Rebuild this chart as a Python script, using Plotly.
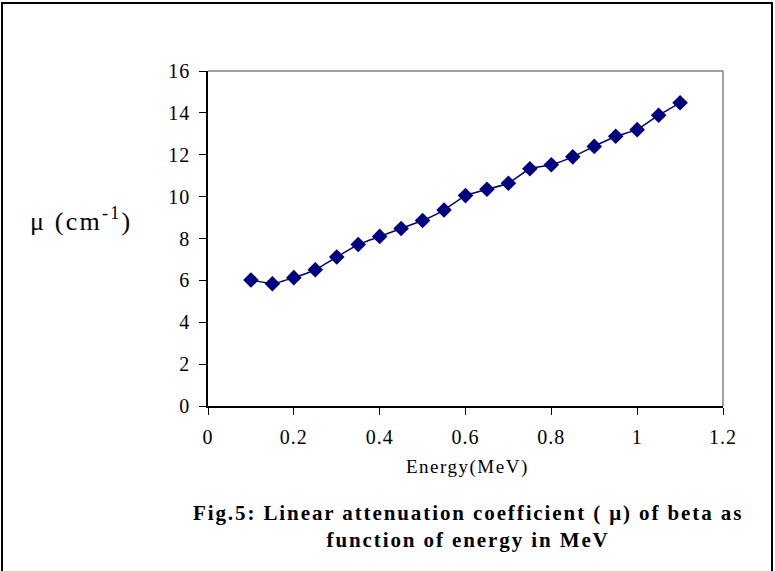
import plotly.graph_objects as go

energy = [0.1, 0.15, 0.2, 0.25, 0.3, 0.35, 0.4, 0.45, 0.5, 0.55, 0.6,
          0.65, 0.7, 0.75, 0.8, 0.85, 0.9, 0.95, 1.0, 1.05, 1.1]
mu = [6.02, 5.84, 6.13, 6.51, 7.12, 7.71, 8.10, 8.48, 8.86, 9.36, 10.05,
      10.35, 10.64, 11.33, 11.52, 11.90, 12.40, 12.88, 13.20, 13.89, 14.48]
x_ticks = [0, 0.2, 0.4, 0.6, 0.8, 1, 1.2]
y_ticks = [0, 2, 4, 6, 8, 10, 12, 14, 16]

FONT = "Liberation Serif, Times New Roman, serif"
NAVY = "#000080"


def spaced(s, px):
    return f'<span style="letter-spacing:{px}px">{s}</span>'


fig = go.Figure()
fig.add_trace(go.Scatter(
    x=energy, y=mu, mode="lines+markers",
    line=dict(color=NAVY, width=1.5, shape="spline", smoothing=0.4),
    marker=dict(symbol="diamond", size=12, color=NAVY),
    showlegend=False, hoverinfo="x+y"))

fig.update_layout(
    width=775, height=571,
    margin=dict(l=208, r=52, t=71, b=165),
    paper_bgcolor="white", plot_bgcolor="white",
    font=dict(family=FONT, size=20, color="black"),
    xaxis=dict(range=[0, 1.2], tickvals=x_ticks,
               ticktext=[spaced(str(v), 1) for v in x_ticks],
               showgrid=False, zeroline=False, showline=True, linecolor="black",
               linewidth=1.5, ticks="outside", ticklen=7, tickcolor="black",
               ticklabelstandoff=5,
               tickfont=dict(family=FONT, size=20)),
    yaxis=dict(range=[0, 16], tickvals=y_ticks,
               ticktext=[spaced(str(v), 1) for v in y_ticks],
               showgrid=False, zeroline=False,
               showline=True, linecolor="black", linewidth=1.5, ticks="outside",
               ticklen=7, tickcolor="black", ticklabelstandoff=5,
               tickfont=dict(family=FONT, size=20)),
    shapes=[
        dict(type="line", xref="paper", yref="paper", x0=0, x1=1, y0=1, y1=1,
             line=dict(color="#808080", width=1.5)),
        dict(type="line", xref="paper", yref="paper", x0=1, x1=1, y0=0, y1=1,
             line=dict(color="#808080", width=1.5)),
        dict(type="rect", xref="paper", yref="paper",
             x0=-206 / 515, x1=(772 - 208) / 515,
             y0=-(590 - 406) / 335, y1=(406 - 3) / 335,
             line=dict(color="black", width=2), layer="below"),
    ],
    annotations=[
        dict(text=spaced("μ (cm<sup>-1</sup>)", 2.2), xref="paper", yref="paper",
             x=(81 - 208) / 515, y=(406 - 219) / 335, showarrow=False,
             font=dict(family=FONT, size=26), xanchor="center", yanchor="middle"),
        dict(text=spaced("Energy(MeV)", 1.5), xref="paper", yref="paper",
             x=(467 - 208) / 515, y=-(467 - 406) / 335, showarrow=False,
             font=dict(family=FONT, size=19), xanchor="center", yanchor="middle"),
        dict(text="<b>" + spaced("Fig.5: Linear attenuation coefficient ( μ) of beta as", 1.9)
             + "<br>" + spaced("function of energy in MeV", 1.9) + "</b>",
             xref="paper", yref="paper",
             x=(468 - 208) / 515, y=-(526 - 406) / 335, showarrow=False,
             font=dict(family=FONT, size=21), xanchor="center", yanchor="middle",
             align="center"),
    ],
)

fig.write_html("out.html")
